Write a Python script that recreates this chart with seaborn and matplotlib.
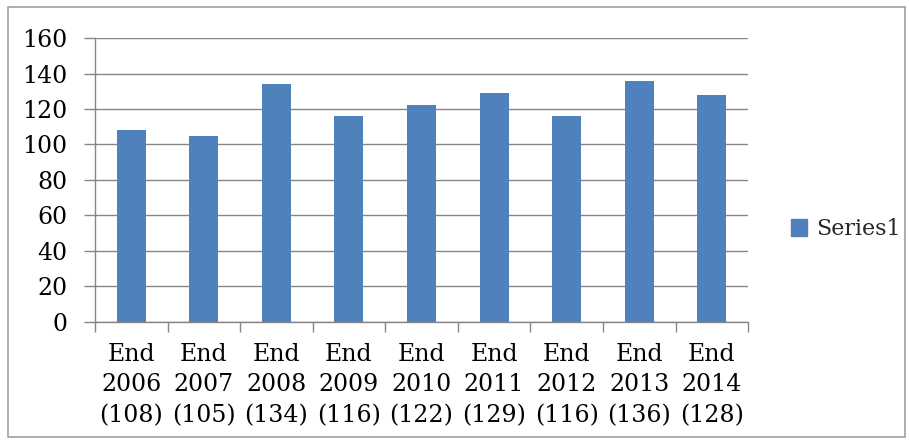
import matplotlib
matplotlib.use("Agg")
import matplotlib.pyplot as plt
import seaborn as sns
import pandas as pd
import numpy as np
from matplotlib.patches import Rectangle

# data
years = ["2006", "2007", "2008", "2009", "2010", "2011", "2012", "2013", "2014"]
values = [108, 105, 134, 116, 122, 129, 116, 136, 128]
labels = [f"End\n{y}\n({v})" for y, v in zip(years, values)]

bar_color = "#4F81BD"
grid_color = "#868686"

sns.set_theme(style="white")
plt.rcParams["font.family"] = ["DejaVu Serif"]

df = pd.DataFrame({"label": labels, "value": values})

fig = plt.figure(figsize=(9.09, 4.41), dpi=100)
ax = fig.add_axes([0.1045, 0.270, 0.7185, 0.6438])

sns.barplot(data=df, x="label", y="value", color=bar_color, width=0.4,
            saturation=1, linewidth=0, ax=ax)

ax.set_ylim(0, 160)
ax.set_yticks(np.arange(0, 161, 20))
ax.set_xlim(-0.5, len(values) - 0.5)
ax.yaxis.grid(True, color=grid_color, linewidth=1)
ax.set_axisbelow(True)
ax.set_xlabel("")
ax.set_ylabel("")

for side in ["top", "right"]:
    ax.spines[side].set_visible(False)
for side in ["left", "bottom"]:
    ax.spines[side].set_color(grid_color)
    ax.spines[side].set_linewidth(1)

# ticks: y outward, x ticks at category edges
ax.tick_params(axis="y", which="major", length=8, width=1, color=grid_color,
               left=True, labelsize=17, pad=12, labelcolor="black")
ax.set_xticks(np.arange(len(values)))
ax.set_xticklabels(labels, fontsize=17, linespacing=1.42)
ax.tick_params(axis="x", which="major", length=0, pad=15, labelcolor="black")
ax.set_xticks(np.arange(-0.5, len(values)), minor=True)
ax.tick_params(axis="x", which="minor", length=7, width=1, color=grid_color,
               bottom=True)

# legend on the right
handle = Rectangle((0, 0), 1, 1, color=bar_color)
fig.legend([handle], ["Series1"], loc="center left",
           bbox_to_anchor=(0.848, 0.48), frameon=False, fontsize=16,
           handlelength=0.75, handleheight=0.75, handletextpad=0.4)

# chart-area border
fig.patches.append(Rectangle((8 / 909, 4 / 441), 897 / 909, 430 / 441,
                             transform=fig.transFigure, fill=False,
                             edgecolor="#A0A0A0", linewidth=1.2))

fig.savefig("out.png", dpi=100)
